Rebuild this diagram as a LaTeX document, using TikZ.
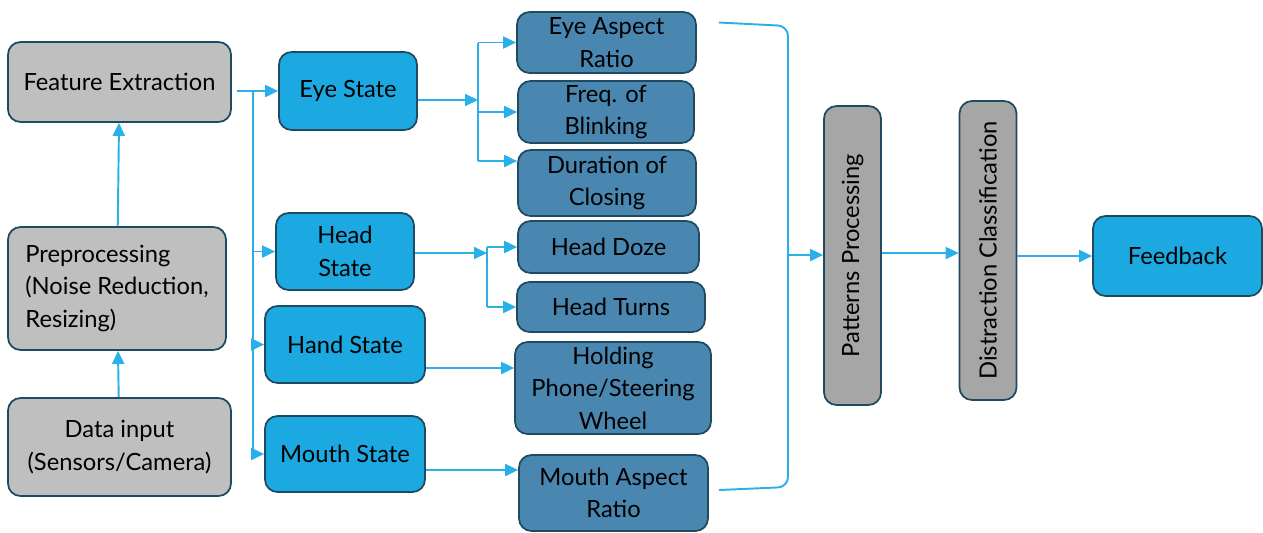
\documentclass[tikz,border=0pt]{standalone}
\usepackage{fontspec}
\setmainfont{Lato}
\usetikzlibrary{arrows.meta}
\definecolor{boxline}{HTML}{1F4B61}
\definecolor{greyfill}{HTML}{BFBFBF}
\definecolor{darkgrey}{HTML}{A6A6A6}
\definecolor{skyblue}{HTML}{1CA9E1}
\definecolor{steel}{HTML}{4A87B0}
\definecolor{linkblue}{HTML}{2AB0E8}

\begin{document}
\begin{tikzpicture}[x=0.02cm,y=-0.02cm,
  box/.style = {draw=boxline,line width=1pt,rounded corners=2.5mm,
        align=center,inner sep=2pt,font=\fontsize{13.5}{18.5}\selectfont},
  greybox/.style = {box,fill=greyfill},
  tallbox/.style = {box,fill=darkgrey,minimum width=1.14cm,minimum height=5.98cm},
  statebox/.style = {box,fill=skyblue},
  featbox/.style = {box,fill=steel},
  link/.style = {linkblue,line width=1.1pt}]
 \useasboundingbox (0,0) rectangle (1263,532);

 % input side
 \node[greybox,minimum width=4.46cm,minimum height=1.6cm] (feat) at(119.5,82)
        {Feature Extraction};
 \node[greybox,minimum width=4.36cm,minimum height=2.46cm,align=left] (prep) at(117,288.5)
        {Preprocessing\\ (Noise Reduction,\\ Resizing)};
 \node[greybox,minimum width=4.46cm,minimum height=1.96cm] (data) at(119.5,447)
        {Data input\\ (Sensors/Camera)};

 % states
 \node[statebox,minimum width=2.76cm,minimum height=1.56cm] (eye) at(348,91)
        {Eye State};
 \node[statebox,minimum width=2.76cm,minimum height=1.54cm] (head) at(345,251.5)
        {Head\\ State};
 \node[statebox,minimum width=3.2cm,minimum height=1.54cm] (hand) at(345,344.5)
        {Hand State};
 \node[statebox,minimum width=3.2cm,minimum height=1.52cm] (mouth) at(345,454)
        {Mouth State};

 % features
 \node[featbox,minimum width=3.58cm,minimum height=1.22cm] (ear) at(606.5,42.5)
        {Eye Aspect\\ Ratio};
 \node[featbox,minimum width=3.52cm,minimum height=1.24cm] (freq) at(606,112)
        {Freq. of\\ Blinking};
 \node[featbox,minimum width=3.56cm,minimum height=1.32cm] (dur) at(607,183)
        {Duration of\\ Closing};
 \node[featbox,minimum width=3.62cm,minimum height=1.04cm] (doze) at(608.5,247)
        {Head Doze};
 \node[featbox,minimum width=3.76cm,minimum height=1.0cm] (turns) at(611,307)
        {Head Turns};
 \node[featbox,minimum width=3.92cm,minimum height=1.84cm] (hold) at(613,388)
        {Holding\\ Phone/Steering\\ Wheel};
 \node[featbox,minimum width=3.78cm,minimum height=1.52cm] (mar) at(613.5,493)
        {Mouth Aspect\\ Ratio};

 % output side
 \node[tallbox] (patt) at(852.5,255.5) {\rotatebox{90}{Patterns Processing}};
 \node[tallbox] (dist) at(988,250.5) {\rotatebox{90}{Distraction Classification}};
 \node[statebox,minimum width=3.38cm,minimum height=1.6cm] (fb) at(1177.5,256)
        {Feedback};

 \coordinate (trunk) at (253,91);
 \coordinate (eyefan) at (478,100);
 \coordinate (headfan) at (487,253);
 \coordinate (brk) at (788,255);
 \coordinate (handy) at (0,368);
 \coordinate (mouthy) at (0,470);
 \coordinate (dury) at (0,161);
 \coordinate (patty) at (0,253);

 \begin{scope}[link,-{Triangle[length=2.6mm,width=2.4mm]}]
  \path (data) edge (prep)
        (prep) edge (feat)
        ([xshift=1mm]feat.east |- eye) edge (eye)
        (trunk |- head) edge (head)
        (trunk |- hand) edge (hand)
        (hand.east |- handy) edge (hold.west |- handy)
        (mouth.east |- mouthy) edge (mar.west |- mouthy)
        (eye.east |- eyefan) edge (eyefan)
        (eyefan |- ear) edge (ear)
        (eyefan |- freq) edge (freq)
        (eyefan |- dury) edge (dur.west |- dury)
        (head.east |- headfan) edge (headfan)
        (headfan |- doze) edge (doze)
        (headfan |- turns) edge (turns)
        (brk) edge (brk -| patt.west)
        (patt.east |- patty) edge (dist.west |- patty)
        (dist.east |- fb) edge (fb);
  \draw (trunk) |- (mouth);
 \end{scope}
 \draw[link] (eyefan |- ear) -- (eyefan |- dury)
             (headfan |- doze) -- (headfan |- turns);
 \draw[link,rounded corners=2mm] ([xshift=4.4mm,yshift=4mm]ear.east) -- (brk |- 0,26)
        -- (brk |- 0,487) -- ([xshift=2mm,yshift=0.6mm]mar.east);
\end{tikzpicture}
\end{document}
